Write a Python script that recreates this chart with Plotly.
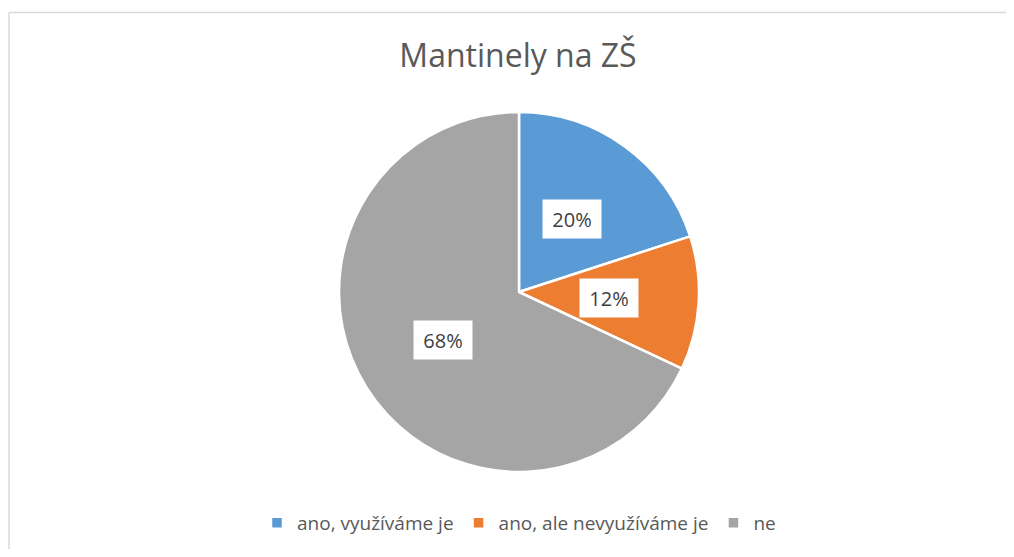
import math
import plotly.graph_objects as go

# page has an 8px body margin; figure fills the rest of the 1014x557 window
OFF = 8
W, H = 1014 - 2 * OFF, 557 - 2 * OFF

labels = ["ano, využíváme je", "ano, ale nevyužíváme je", "ne"]
values = [20, 12, 68]
colors = ["#5B9BD5", "#ED7D31", "#A5A5A5"]
title = "Mantinely na ZŠ"

FONT = "Open Sans, Lato, sans-serif"

def px(x):
    return (x - OFF) / W

def py(y):
    return 1 - (y - OFF) / H

# pie placement (page pixels)
cx, cy, R = 519, 292, 180

fig = go.Figure()
fig.add_trace(go.Pie(
    labels=labels, values=values, sort=False, direction="clockwise", rotation=0,
    marker=dict(colors=colors, line=dict(color="white", width=2.5)),
    textinfo="none", hoverinfo="label+percent",
    domain=dict(x=[px(cx - R), px(cx + R)], y=[py(cy + R), py(cy - R)]),
))

# data labels in white boxes at slice mid-angles
total = sum(values)
cum = 0
for v in values:
    mid = (cum + v / 2) / total * 2 * math.pi
    cum += v
    r = 0.5 * R
    lx = cx + r * math.sin(mid)
    ly = cy - r * math.cos(mid)
    fig.add_annotation(
        x=px(lx), y=py(ly), xref="paper", yref="paper",
        text=f"{round(v / total * 100)}%", showarrow=False,
        font=dict(family=FONT, size=20, color="#404040"),
        bgcolor="white", borderpad=6, width=46, height=26,
    )

# chart border (left and top edges visible)
fig.add_shape(type="line", xref="paper", yref="paper", x0=px(9), x1=1.0, y0=py(12.5), y1=py(12.5),
              line=dict(color="#D9D9D9", width=1.5))
fig.add_shape(type="line", xref="paper", yref="paper", x0=px(9), x1=px(9), y0=0, y1=py(12.5),
              line=dict(color="#D9D9D9", width=1.5))

fig.update_layout(
    width=W, height=H, margin=dict(l=0, r=0, t=0, b=0),
    paper_bgcolor="white", plot_bgcolor="white",
    title=dict(text=title, x=px(518), xanchor="center", y=py(56), yanchor="middle",
               font=dict(family=FONT, size=32, color="#595959")),
    showlegend=True,
    legend=dict(orientation="h", x=px(519), xanchor="center", y=py(523), yanchor="middle",
                font=dict(family=FONT, size=19, color="#595959"),
                itemwidth=30, traceorder="normal"),
)

fig.write_html("out.html")
